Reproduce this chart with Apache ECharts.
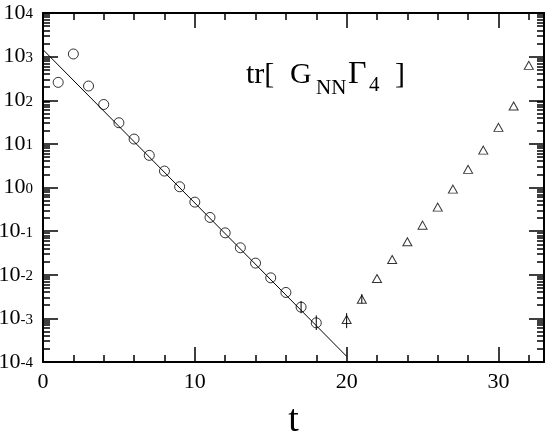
<!DOCTYPE html>
<html><head><meta charset="utf-8">
<script src="https://cdn.jsdelivr.net/npm/echarts@6/dist/echarts.min.js"></script>
<style>html,body{margin:0;padding:0;background:#fff}#c{width:545px;height:433px}</style>
</head><body><div id="c"></div>
<script>
// ---- data ----
const circleT = [1,2,3,4,5,6,7,8,9,10,11,12,13,14,15,16,17,18];
const circleV = [257,1150,212,80,30.5,12.9,5.45,2.38,1.04,0.462,0.206,0.0914,0.0415,0.0185,0.0085,0.00393,0.00181,0.000789];
const triT = [20,21,22,23,24,25,26,27,28,29,30,31,32];
const triV = [0.000944,0.00275,0.0082,0.0224,0.0569,0.137,0.355,0.918,2.6,7.2,23.9,73.6,631];
const fitT = [0,20];
const fitV = [1445,0.000135];
const errT  = [17,18,20,21];
const errLo = [0.00131,0.00054,0.000596,0.0022];
const errHi = [0.0025,0.00117,0.00132,0.0036];
const xMajor = [0,10,20,30];
const xMinor = [2,4,6,8,12,14,16,18,22,24,26,28,32];
const yDecades = [-4,-3,-2,-1,0,1,2,3,4];
const yMinorMult = [2,3,4,5,6,7,8,9];
const titleParts = ['tr[', 'G', 'NN', 'Γ', '4', ']'];

const L = Math.log10;
const yMinor = [];
yDecades.slice(0,-1).forEach(d => yMinorMult.forEach(m => yMinor.push(d + L(m))));

const FF = 'Liberation Serif';
const black = '#000';

function xAx(pos, ticks, len, main) {
  return {
    type:'value', min:0, max:33, position:pos,
    axisLine:{show:!!main, onZero:false, lineStyle:{color:black, width:2}},
    axisTick:{show:true, inside:true, length:len, customValues:ticks, lineStyle:{color:black, width:1.5}},
    axisLabel:(main && pos==='bottom') ? {show:true, customValues:xMajor, fontSize:22, fontFamily:FF, color:black, margin:9} : {show:false},
    splitLine:{show:false},
    name:(main && pos==='bottom') ? 't' : '',
    nameLocation:'middle', nameGap:40,
    nameTextStyle:{fontSize:38, fontFamily:FF, color:black}
  };
}
function yAx(pos, ticks, len, main) {
  return {
    type:'value', min:-4, max:4, position:pos,
    axisLine:{show:!!main, onZero:false, lineStyle:{color:black, width:2}},
    axisTick:{show:true, inside:true, length:len, customValues:ticks, lineStyle:{color:black, width:1.5}},
    axisLabel:(main && pos==='left') ? {
      show:true, customValues:yDecades, margin:10,
      formatter: v => '{b|10}{s|' + Math.round(v) + '}',
      rich:{
        b:{fontSize:22, fontFamily:FF, color:black, lineHeight:22, padding:[11,0,0,0], verticalAlign:'bottom'},
        s:{fontSize:15, fontFamily:FF, color:black, lineHeight:15, padding:[5,0,0,0], verticalAlign:'top'}
      }
    } : {show:false},
    splitLine:{show:false}
  };
}

function tText(str, x, y, size) {
  return {type:'text', x:x, y:y, silent:true,
    style:{text:str, font:size + 'px "' + FF + '"', fill:black, align:'left', verticalAlign:'middle'}};
}

const chart = echarts.init(document.getElementById('c'), null, {renderer:'canvas'});
chart.setOption({
  animation:false,
  backgroundColor:'#fff',
  grid:{left:43, right:1, top:13, bottom:71, outerBoundsMode:'none'},
  xAxis:[
    xAx('bottom', xMajor, 15, true),
    xAx('bottom', xMinor, 7, false),
    xAx('top', xMajor, 15, true),
    xAx('top', xMinor, 7, false)
  ],
  yAxis:[
    yAx('left', yDecades, 15, true),
    yAx('left', yMinor, 7, false),
    yAx('right', yDecades, 15, true),
    yAx('right', yMinor, 7, false)
  ],
  graphic:[
    tText(titleParts[0], 246, 75, 30),
    tText(titleParts[1], 290, 75, 30),
    tText(titleParts[2], 316, 88, 21),
    tText(titleParts[3], 348, 75, 32),
    tText(titleParts[4], 369, 85, 21),
    tText(titleParts[5], 395, 75, 30)
  ],
  series:[
    {
      type:'line', xAxisIndex:0, yAxisIndex:0, symbol:'none', silent:true,
      lineStyle:{color:black, width:1},
      data: fitT.map((t,i) => [t, L(fitV[i])])
    },
    {
      type:'custom', xAxisIndex:0, yAxisIndex:0, silent:true,
      data: errT.map((t,i) => [t, L(errLo[i]), L(errHi[i])]),
      renderItem:(params, api) => {
        const p1 = api.coord([api.value(0), api.value(1)]);
        const p2 = api.coord([api.value(0), api.value(2)]);
        return {type:'line', shape:{x1:p1[0], y1:p1[1], x2:p2[0], y2:p2[1]}, style:{stroke:black, lineWidth:1}};
      }
    },
    {
      type:'scatter', xAxisIndex:0, yAxisIndex:0, symbol:'circle', symbolSize:10, silent:true,
      itemStyle:{color:'none', borderColor:black, borderWidth:1},
      data: circleT.map((t,i) => [t, L(circleV[i])])
    },
    {
      type:'scatter', xAxisIndex:0, yAxisIndex:0, symbol:'triangle', symbolSize:[9,8], silent:true,
      itemStyle:{color:'none', borderColor:black, borderWidth:1},
      data: triT.map((t,i) => [t, L(triV[i])])
    }
  ]
});
</script>
</body></html>
